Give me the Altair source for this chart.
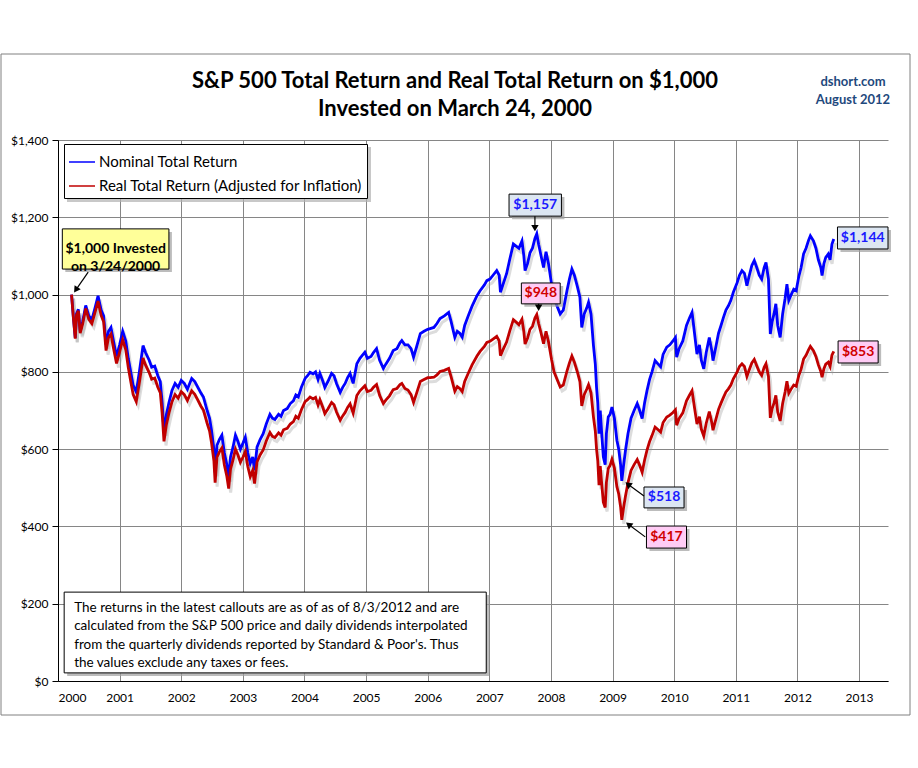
import altair as alt
import pandas as pd

# ---------------- data ----------------
years = [
    2000.22, 2000.25, 2000.28, 2000.30, 2000.33, 2000.36, 2000.40, 2000.45, 2000.50, 2000.55,
    2000.60, 2000.65, 2000.70, 2000.74, 2000.78, 2000.82, 2000.86, 2000.90, 2000.95, 2001.00,
    2001.05, 2001.10, 2001.14, 2001.18, 2001.22, 2001.27, 2001.32, 2001.38, 2001.42, 2001.48,
    2001.52, 2001.57, 2001.62, 2001.66, 2001.69, 2001.72, 2001.76, 2001.80, 2001.85, 2001.90,
    2001.95, 2002.00, 2002.05, 2002.10, 2002.17, 2002.22, 2002.27, 2002.32, 2002.36, 2002.42,
    2002.46, 2002.49, 2002.53, 2002.55, 2002.58, 2002.62, 2002.66, 2002.70, 2002.74, 2002.77,
    2002.80, 2002.84, 2002.88, 2002.92, 2002.96, 2003.00, 2003.04, 2003.08, 2003.12, 2003.16,
    2003.19, 2003.23, 2003.28, 2003.33, 2003.38, 2003.44, 2003.48, 2003.52, 2003.58, 2003.62,
    2003.66, 2003.72, 2003.77, 2003.82, 2003.86, 2003.90, 2003.95, 2004.01, 2004.05, 2004.09,
    2004.14, 2004.18, 2004.22, 2004.25, 2004.30, 2004.33, 2004.38, 2004.44, 2004.48, 2004.52,
    2004.58, 2004.62, 2004.66, 2004.70, 2004.74, 2004.79, 2004.85, 2004.90, 2004.98, 2005.02,
    2005.08, 2005.12, 2005.17, 2005.22, 2005.28, 2005.32, 2005.38, 2005.44, 2005.50, 2005.55,
    2005.58, 2005.63, 2005.68, 2005.73, 2005.77, 2005.82, 2005.88, 2005.94, 2006.00, 2006.04,
    2006.10, 2006.15, 2006.20, 2006.27, 2006.34, 2006.38, 2006.44, 2006.48, 2006.52, 2006.56,
    2006.60, 2006.66, 2006.72, 2006.80, 2006.85, 2006.92, 2006.96, 2007.01, 2007.06, 2007.12,
    2007.16, 2007.18, 2007.23, 2007.28, 2007.33, 2007.39, 2007.44, 2007.48, 2007.53, 2007.56,
    2007.58, 2007.62, 2007.66, 2007.70, 2007.74, 2007.77, 2007.80, 2007.84, 2007.88, 2007.92,
    2007.96, 2008.01, 2008.05, 2008.10, 2008.15, 2008.20, 2008.26, 2008.30, 2008.34, 2008.38,
    2008.43, 2008.47, 2008.50, 2008.54, 2008.58, 2008.61, 2008.65, 2008.69, 2008.72, 2008.74,
    2008.76, 2008.78, 2008.80, 2008.82, 2008.85, 2008.88, 2008.90, 2008.93, 2008.96, 2008.99,
    2009.03, 2009.07, 2009.10, 2009.13, 2009.15, 2009.18, 2009.21, 2009.25, 2009.30, 2009.35,
    2009.40, 2009.44, 2009.48, 2009.52, 2009.56, 2009.60, 2009.64, 2009.69, 2009.74, 2009.78,
    2009.82, 2009.88, 2009.93, 2009.98, 2010.02, 2010.04, 2010.08, 2010.14, 2010.20, 2010.25,
    2010.29, 2010.33, 2010.37, 2010.41, 2010.44, 2010.48, 2010.52, 2010.57, 2010.61, 2010.63,
    2010.67, 2010.72, 2010.76, 2010.80, 2010.84, 2010.88, 2010.92, 2010.96, 2011.02, 2011.06,
    2011.10, 2011.14, 2011.18, 2011.22, 2011.26, 2011.30, 2011.34, 2011.38, 2011.42, 2011.46,
    2011.49, 2011.53, 2011.56, 2011.59, 2011.62, 2011.65, 2011.68, 2011.72, 2011.76, 2011.80,
    2011.83, 2011.86, 2011.90, 2011.94, 2011.98, 2012.02, 2012.06, 2012.10, 2012.14, 2012.18,
    2012.21, 2012.26, 2012.30, 2012.34, 2012.38, 2012.40, 2012.43, 2012.46, 2012.50, 2012.53,
    2012.56, 2012.59,
]

nominal_values = [
    1000, 940, 888, 950, 962, 905, 930, 972, 945, 935,
    965, 997, 960, 945, 870, 905, 915, 880, 840, 870,
    905, 880, 835, 800, 765, 748, 800, 868, 850, 830,
    812, 815, 790, 775, 720, 645, 690, 720, 752, 770,
    760, 778, 770, 755, 783, 775, 760, 745, 735, 700,
    680, 650, 600, 540, 610, 625, 636, 590, 560, 526,
    580, 605, 636, 620, 600, 615, 631, 590, 563, 580,
    545, 605, 625, 640, 665, 690, 680, 677, 690, 685,
    700, 705, 718, 725, 740, 735, 760, 783, 790, 799,
    795, 800, 780, 796, 775, 760, 775, 796, 790, 770,
    747, 760, 770, 785, 796, 770, 821, 835, 851, 835,
    840, 850, 860, 830, 809, 820, 835, 855, 860, 875,
    881, 870, 870, 860, 838, 865, 899, 905, 910, 912,
    915, 925, 938, 945, 954, 930, 889, 905, 900, 890,
    920, 946, 970, 997, 1010, 1025, 1036, 1040, 1050, 1062,
    1050, 1006, 1030, 1054, 1090, 1131, 1125, 1120, 1139, 1100,
    1062, 1080, 1108, 1120, 1145, 1157, 1130, 1100, 1070, 1111,
    1080, 1027, 990, 970, 950, 960, 1010, 1040, 1066, 1050,
    1020, 993, 915, 950, 965, 980, 950, 868, 820, 760,
    720, 640, 700, 650, 580, 560, 640, 683, 690, 709,
    680, 623, 600, 560, 518, 560, 597, 640, 680, 700,
    718, 700, 679, 720, 752, 780, 800, 829, 820, 813,
    845, 864, 870, 880, 889, 838, 860, 880, 920, 940,
    954, 900, 846, 870, 830, 808, 850, 889, 855, 829,
    860, 900, 920, 941, 960, 971, 985, 1006, 1030, 1050,
    1062, 1055, 1023, 1050, 1075, 1088, 1070, 1050, 1040, 1070,
    1083, 1040, 898, 930, 950, 976, 920, 889, 950, 990,
    1027, 985, 1000, 1014, 1010, 1045, 1070, 1105, 1120, 1140,
    1152, 1139, 1120, 1090, 1070, 1049, 1080, 1096, 1105, 1090,
    1130, 1144,
]

real_values = [
    1000, 939, 886, 947, 958, 900, 924, 964, 936, 925,
    953, 983, 946, 930, 855, 889, 898, 862, 822, 851,
    883, 857, 812, 776, 741, 723, 772, 836, 818, 798,
    781, 784, 760, 746, 693, 620, 664, 693, 723, 741,
    732, 749, 741, 726, 751, 742, 727, 711, 701, 667,
    647, 618, 570, 513, 579, 593, 603, 559, 530, 498,
    548, 572, 600, 585, 566, 579, 594, 555, 529, 545,
    511, 567, 585, 598, 621, 643, 633, 630, 642, 636,
    650, 654, 665, 671, 685, 680, 702, 723, 728, 735,
    730, 734, 714, 728, 707, 692, 704, 721, 715, 696,
    675, 686, 695, 708, 717, 693, 739, 751, 764, 749,
    752, 760, 767, 739, 718, 727, 738, 754, 757, 767,
    770, 757, 753, 741, 721, 745, 775, 780, 785, 785,
    786, 792, 801, 804, 809, 787, 750, 762, 757, 749,
    775, 797, 818, 841, 853, 866, 876, 879, 885, 892,
    880, 842, 860, 877, 905, 935, 928, 922, 936, 904,
    872, 887, 910, 918, 939, 948, 925, 900, 873, 905,
    878, 832, 800, 780, 761, 766, 802, 823, 841, 825,
    799, 775, 712, 741, 755, 767, 746, 683, 647, 600,
    570, 507, 556, 517, 463, 449, 514, 550, 558, 574,
    551, 503, 484, 451, 417, 450, 479, 513, 545, 560,
    573, 558, 540, 572, 598, 619, 635, 657, 650, 644,
    669, 683, 688, 695, 702, 662, 679, 694, 725, 740,
    751, 707, 665, 684, 652, 634, 667, 697, 669, 649,
    673, 703, 719, 734, 748, 756, 766, 782, 799, 814,
    821, 814, 788, 806, 823, 832, 816, 800, 791, 812,
    821, 788, 681, 705, 719, 739, 696, 673, 718, 748,
    776, 745, 756, 766, 763, 789, 807, 833, 843, 857,
    866, 855, 840, 818, 801, 786, 808, 820, 825, 814,
    843, 853,
]

series_names = ["Nominal Total Return", "Real Total Return (Adjusted for Inflation)"]
series_colors = ["#0000FF", "#C00000"]

y_ticks = [0, 200, 400, 600, 800, 1000, 1200, 1400]
x_ticks = list(range(2000, 2014))

title_lines = ["S&P 500 Total Return and Real Total Return on $1,000", "Invested on March 24, 2000"]
brand_lines = ["dshort.com", "August 2012"]

# callouts (value labels)
callout_labels = ["$1,157", "$948", "$1,144", "$853", "$518", "$417"]
callout_x1 = [2007.32, 2007.52, 2012.65, 2012.66, 2009.51, 2009.55]
callout_x2 = [2008.17, 2008.15, 2013.47, 2013.31, 2010.16, 2010.20]
callout_top = [1260, 1030, 1175, 880, 502, 401]
callout_bottom = [1203, 976, 1118, 823, 448, 344]
callout_fill = ["#DCE6F2", "#FFCCF5", "#DCE6F2", "#FFCCF5", "#DCE6F2", "#FFCCF5"]
callout_text_color = ["#1A1AFF", "#D00000", "#1A1AFF", "#D00000", "#1A1AFF", "#D00000"]

start_label = ["$1,000 Invested", "on 3/24/2000"]
start_box = [2000.07, 2001.80, 1170, 1066]

# arrows tail -> head
arrow_x = [2000.49, 2007.74, 2007.80, 2009.51, 2009.53]
arrow_y = [1058, 1203, 976, 479, 373]
arrow_x2 = [2000.29, 2007.74, 2007.80, 2009.25, 2009.26]
arrow_y2 = [1012, 1172, 966, 509, 405]
arrow_angle = [214, 180, 180, 308, 308]

note_lines = [
    "The returns in the latest callouts are as of as of 8/3/2012  and are",
    "calculated from the S&P 500  price and daily dividends interpolated",
    "from the quarterly dividends reported by Standard & Poor's. Thus",
    "the values exclude any taxes or fees.",
]
note_box = [2000.10, 2006.95, 230, 21]

# ---------------- tables ----------------
df = pd.DataFrame({
    "t": years * 2,
    "value": nominal_values + real_values,
    "series": [series_names[0]] * len(years) + [series_names[1]] * len(years),
})
callouts = pd.DataFrame({
    "label": callout_labels,
    "x1": callout_x1, "x2": callout_x2,
    "y1": callout_top, "y2": callout_bottom,
    "fill": callout_fill, "tc": callout_text_color,
})
callouts["xm"] = (callouts["x1"] + callouts["x2"]) / 2
callouts["ym"] = (callouts["y1"] + callouts["y2"]) / 2
arrows = pd.DataFrame({"x": arrow_x, "y": arrow_y, "x2": arrow_x2, "y2": arrow_y2, "angle": arrow_angle})
start_df = pd.DataFrame({"x1": [start_box[0]], "x2": [start_box[1]], "y1": [start_box[2]], "y2": [start_box[3]]})
note_df = pd.DataFrame({"x1": [note_box[0]], "x2": [note_box[1]], "y1": [note_box[2]], "y2": [note_box[3]]})

FONT = "Lato"
xscale = alt.Scale(domain=[2000, 2013.47], nice=False, zero=False)
yscale = alt.Scale(domain=[0, 1400], nice=False)

X = alt.X("t:Q", scale=xscale, title=None,
          axis=alt.Axis(values=x_ticks, format="d", ticks=False, labelPadding=11,
                        grid=True, gridColor="#868686", gridOpacity=1, domainColor="#000000",
                        labelFont=FONT, labelFontSize=12, labelColor="#000000"))
Y = alt.Y("value:Q", scale=yscale, title=None,
          axis=alt.Axis(values=y_ticks, format="$,.0f", tickSize=6, tickColor="#000000",
                        labelPadding=4, grid=True, gridColor="#868686", gridOpacity=1,
                        domainColor="#000000", labelFont=FONT, labelFontSize=12,
                        labelColor="#000000"))

frame = alt.Chart(start_df).mark_rect(fill=None, stroke="#808080", strokeWidth=1).encode(
    x=alt.value(-57), x2=alt.value(852), y=alt.value(-86), y2=alt.value(575))

title = alt.Chart(start_df).mark_text(font=FONT, fontSize=22, fontWeight="bold", align="center",
                                      baseline="middle", lineHeight=28, color="#000000").encode(
    x=alt.value(397), y=alt.value(-59), text=alt.value(title_lines))

shadow = alt.Chart(df).mark_line(strokeWidth=3, color="#9a9a9a", opacity=0.35,
                                 xOffset=2, yOffset=4).encode(
    x=alt.X("t:Q", scale=xscale, title=None), y=alt.Y("value:Q", scale=yscale, title=None),
    detail="series:N")

lines = alt.Chart(df).mark_line(strokeWidth=2.8).encode(
    x=X, y=Y,
    color=alt.Color("series:N",
                    scale=alt.Scale(domain=series_names, range=series_colors),
                    sort=series_names,
                    legend=alt.Legend(title=None, orient="none", legendX=6, legendY=4,
                                      fillColor="#FFFFFF", strokeColor="#000000", padding=4,
                                      symbolType="stroke", symbolSize=676, symbolStrokeWidth=1.5,
                                      labelFont=FONT, labelFontSize=15, labelColor="#000000",
                                      rowPadding=2, labelLimit=500, labelOffset=3)),
    order=alt.Order("t:Q"),
)

legend_shadow = alt.Chart(start_df).mark_rect(fill="#b0b0b0", opacity=0.7).encode(
    x=alt.value(9), x2=alt.value(313), y=alt.value(7), y2=alt.value(62))


def boxes(data, fill_enc=None, fill_value=None):
    base = alt.Chart(data)
    sh = base.mark_rect(fill="#a0a0a0", opacity=0.7, xOffset=3, x2Offset=3, yOffset=3, y2Offset=3).encode(
        x=alt.X("x1:Q", scale=xscale, title=None), x2="x2:Q",
        y=alt.Y("y1:Q", scale=yscale, title=None), y2="y2:Q")
    if fill_enc is not None:
        bx = base.mark_rect(stroke="#000000", strokeWidth=1).encode(
            x=alt.X("x1:Q", scale=xscale, title=None), x2="x2:Q",
            y=alt.Y("y1:Q", scale=yscale, title=None), y2="y2:Q",
            fill=alt.Fill(fill_enc, scale=None))
    else:
        bx = base.mark_rect(stroke="#000000", strokeWidth=1, fill=fill_value).encode(
            x=alt.X("x1:Q", scale=xscale, title=None), x2="x2:Q",
            y=alt.Y("y1:Q", scale=yscale, title=None), y2="y2:Q")
    return sh + bx


callout_boxes = boxes(callouts, fill_enc="fill:N")
callout_text = alt.Chart(callouts).mark_text(font=FONT, fontSize=14, fontWeight="bold",
                                             baseline="middle", align="center").encode(
    x=alt.X("xm:Q", scale=xscale, title=None), y=alt.Y("ym:Q", scale=yscale, title=None),
    text="label:N", fill=alt.Fill("tc:N", scale=None))

start_boxes = boxes(start_df, fill_value="#FFFF99")
start_text = alt.Chart(start_df).mark_text(font=FONT, fontSize=14, fontWeight="bold",
                                           baseline="middle", align="center", lineHeight=18,
                                           color="#000000").encode(
    x=alt.X("xm:Q", scale=xscale, title=None), y=alt.Y("ym:Q", scale=yscale, title=None),
    text=alt.value(start_label)).transform_calculate(
    xm="(datum.x1 + datum.x2) / 2", ym="(datum.y1 + datum.y2) / 2")

arrow_lines = alt.Chart(arrows).mark_rule(color="#000000", strokeWidth=1.2).encode(
    x=alt.X("x:Q", scale=xscale, title=None), y=alt.Y("y:Q", scale=yscale, title=None),
    x2="x2:Q", y2="y2:Q")
arrow_heads = alt.Chart(arrows).mark_point(shape="triangle-up", filled=True, size=55,
                                           color="#000000", opacity=1).encode(
    x=alt.X("x2:Q", scale=xscale, title=None), y=alt.Y("y2:Q", scale=yscale, title=None),
    angle=alt.Angle("angle:Q", scale=None))

note_boxes = boxes(note_df, fill_value="#FFFFFF")
note_text = alt.Chart(note_df).mark_text(font=FONT, fontSize=13.5, align="left", baseline="top",
                                         lineHeight=18.3, color="#000000", dx=10, dy=9).encode(
    x=alt.X("x1:Q", scale=xscale, title=None), y=alt.Y("y1:Q", scale=yscale, title=None),
    text=alt.value(note_lines))

brand = alt.Chart(start_df).mark_text(font=FONT, fontSize=13, fontWeight="bold", align="center",
                                      baseline="middle", lineHeight=18, color="#1F497D").encode(
    x=alt.value(795), y=alt.value(-58), text=alt.value(brand_lines))

chart = alt.layer(
    frame, title, shadow, lines, legend_shadow,
    callout_boxes, callout_text, start_boxes, start_text,
    arrow_lines, arrow_heads, note_boxes, note_text, brand,
).properties(
    width=830, height=541,
    background="#FFFFFF",
    autosize=alt.AutoSizeParams(type="none"),
    padding={"left": 58, "top": 140, "right": 30, "bottom": 87},
).configure_view(stroke=None)

chart.save("out.html", embed_options={"renderer": "svg", "actions": False})
